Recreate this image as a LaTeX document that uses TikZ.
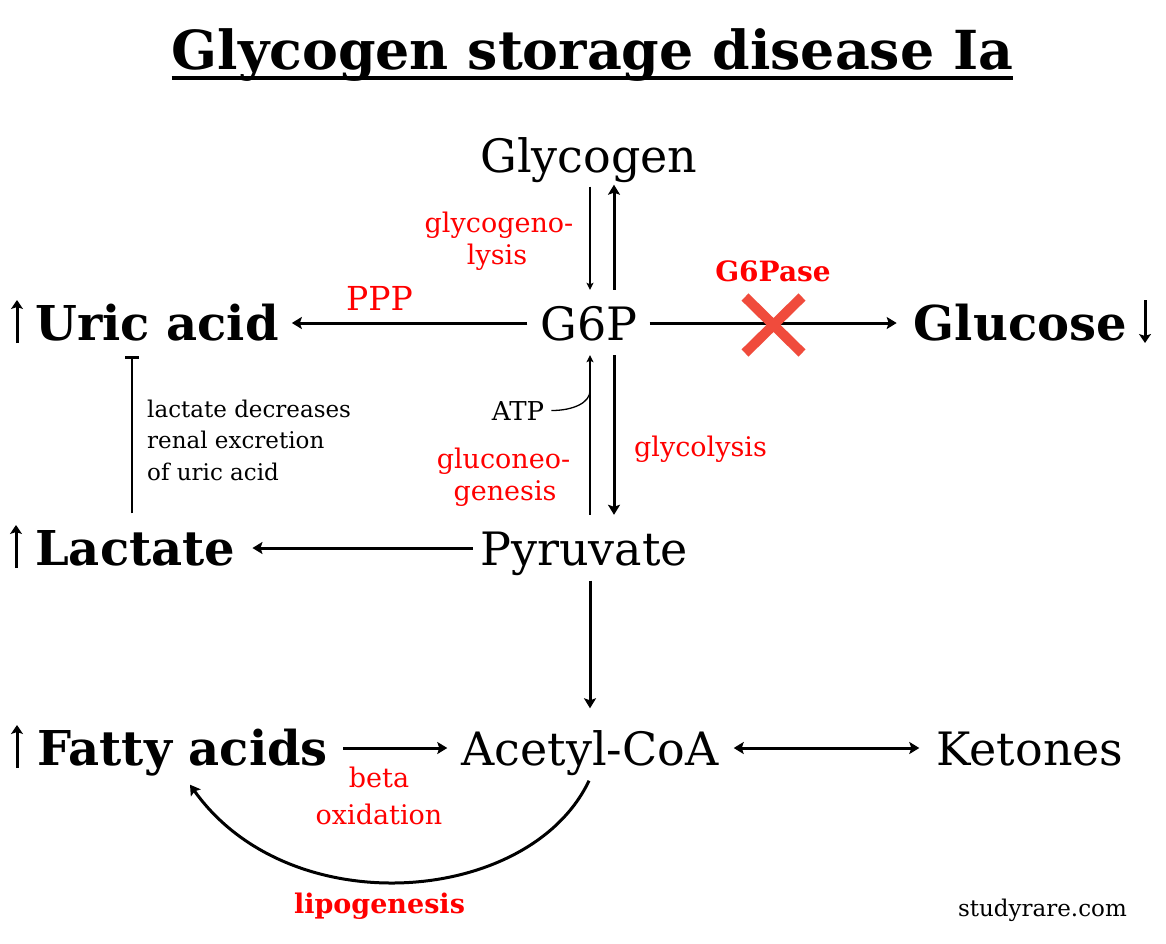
\documentclass[tikz,border=0pt]{standalone}
\usepackage{fontspec}
\setmainfont{DejaVu Serif}
\usetikzlibrary{arrows.meta,calc}
\definecolor{txtred}{RGB}{255,0,0}
\definecolor{xred}{RGB}{240,75,60}
\begin{document}
\begin{tikzpicture}[x=1pt,y=-1pt,
  mainnode/.style={inner sep=0pt, text height=35pt, text depth=0pt, font=\fontsize{46}{50}\selectfont},
  boldnode/.style={inner sep=0pt, text height=35pt, text depth=0pt, font=\fontsize{48}{52}\selectfont\bfseries},
  redlabel/.style={anchor=base, inner sep=0pt, text=txtred, font=\fontsize{27}{30}\selectfont},
  smalltext/.style={anchor=base west, inner sep=0pt, font=\fontsize{23}{26}\selectfont},
  thickarrow/.style={line width=3pt, -{Stealth[length=10pt,width=12pt,inset=2pt]}},
  thinarrow/.style={line width=1.5pt, -{Stealth[length=7pt,width=7pt,inset=1.5pt]}},
  smallarrow/.style={line width=3pt, -{Stealth[length=9pt,width=12pt,inset=2pt]}},
]
\useasboundingbox[fill=white] (0,0) rectangle (1166,944);

% title
\node[anchor=base, inner sep=0pt, font=\fontsize{53.8}{60}\selectfont\bfseries] (title) at (592.5,70) {Glycogen storage disease Ia};
\draw[line width=4pt] ($(title.base west)+(0,8)$) -- ($(title.base east)+(0,8)$);

% main nodes
\node[mainnode] (glycogen) at (589,155) {Glycogen};
\node[mainnode] (g6p) at (589,323) {G6P};
\node[mainnode] (pyruvate) at (584,548) {Pyruvate};
\node[mainnode] (acetyl) at (590,748) {Acetyl-CoA};
\node[mainnode] (ketones) at (1030,748) {Ketones};
\node[boldnode, anchor=west] (uric) at (35,323) {Uric acid};
\node[boldnode, anchor=west] (lactate) at (35,548) {Lactate};
\node[boldnode, anchor=west] (fatty) at (37,748) {Fatty acids};
\node[boldnode, anchor=east] (glucose) at (1127,323) {Glucose};

% small up/down arrows
\draw[smallarrow] ($(uric.west)+(-18,20)$) -- ($(uric.west)+(-18,-23)$);
\draw[smallarrow] ($(lactate.west)+(-19,20)$) -- ($(lactate.west)+(-19,-23)$);
\draw[smallarrow] ($(fatty.west)+(-20,20)$) -- ($(fatty.west)+(-20,-23)$);
\draw[smallarrow] ($(glucose.east)+(18,-23)$) -- ($(glucose.east)+(18,20)$);

% horizontal arrows
\draw[thickarrow, shorten <=13pt, shorten >=13pt] (g6p.west) -- (uric.east);
\draw[thickarrow, shorten <=12pt, shorten >=17pt] (g6p.east) -- (glucose.west);
\draw[thickarrow, shorten <=7pt, shorten >=17pt] (pyruvate.west) -- (lactate.east);
\draw[thickarrow, shorten <=15pt, shorten >=14pt] (fatty.east) -- (acetyl.west);
\draw[line width=3pt, {Stealth[length=10pt,width=12pt,inset=2pt]}-{Stealth[length=10pt,width=12pt,inset=2pt]}, shorten <=15pt, shorten >=17pt] (acetyl.east) -- (ketones.west);

% vertical arrows
\draw[thinarrow] ($(glycogen.south)+(1,14)$) -- ($(g6p.north)+(1,-15.5)$);
\draw[thickarrow] ($(g6p.north)+(25,-15.5)$) -- ($(glycogen.south)+(25,12)$);
\draw[thinarrow] ($(g6p.south |- pyruvate.north)+(1,-15.5)$) -- ($(g6p.south)+(1,14.5)$);
\draw[thickarrow] ($(g6p.south)+(25,14.5)$) -- ($(g6p.south |- pyruvate.north)+(25,-15.5)$);
\draw[thickarrow] ($(pyruvate.south)+(6,15)$) -- ($(acetyl.north)+(0,-22)$);

% inhibition
\draw[line width=2.5pt, -{Bar[width=14pt,line width=2.5pt]}] ($(lactate.north west)+(97,-17)$) -- ($(uric.south west)+(97,15.5)$);

% lipogenesis curve
\draw[thickarrow] ($(acetyl.south)+(-1,15)$) .. controls (530,905) and (290,925) .. ($(fatty.south west)+(153,19)$);

% G6Pase cross
\draw[xred, line width=10pt] (745,297) -- (802,353);
\draw[xred, line width=10pt] (802,297) -- (745,353);

% ATP
\node[anchor=base, inner sep=0pt, font=\fontsize{26}{28}\selectfont] (atp) at (518,420) {ATP};
\coordinate (atpend) at ($(g6p.south)+(1,50)$);
\draw[line width=1.3pt] ($(atp.east)+(7,0)$) .. controls +(22,0) and +(0,12) .. (atpend);

% red labels
\node[redlabel] (gl1) at (499,232) {glycogeno-};
\node[redlabel] (gl2) at (497,264) {lysis};
\node[redlabel, font=\fontsize{33}{36}\selectfont] (ppp) at (379.5,310) {PPP};
\node[redlabel, font=\fontsize{28}{30}\selectfont\bfseries] (g6pase) at (773,281) {G6Pase};
\node[redlabel] (gn1) at (503.5,468) {gluconeo-};
\node[redlabel] (gn2) at (505,500) {genesis};
\node[redlabel] (glyc) at (700.5,456) {glycolysis};
\node[redlabel] (bo1) at (379,787) {beta};
\node[redlabel] (bo2) at (379,824) {oxidation};
\node[redlabel, font=\fontsize{27}{30}\selectfont\bfseries] (lipo) at (379.5,913) {lipogenesis};

% note
\node[smalltext] (n1) at (147,417) {lactate decreases};
\node[smalltext] (n2) at (147,448) {renal excretion};
\node[smalltext] (n3) at (147,480) {of uric acid};

% watermark
\node[anchor=base east, inner sep=0pt, font=\fontsize{23}{26}\selectfont] (site) at (1127,916) {studyrare.com};
\end{tikzpicture}
\end{document}
